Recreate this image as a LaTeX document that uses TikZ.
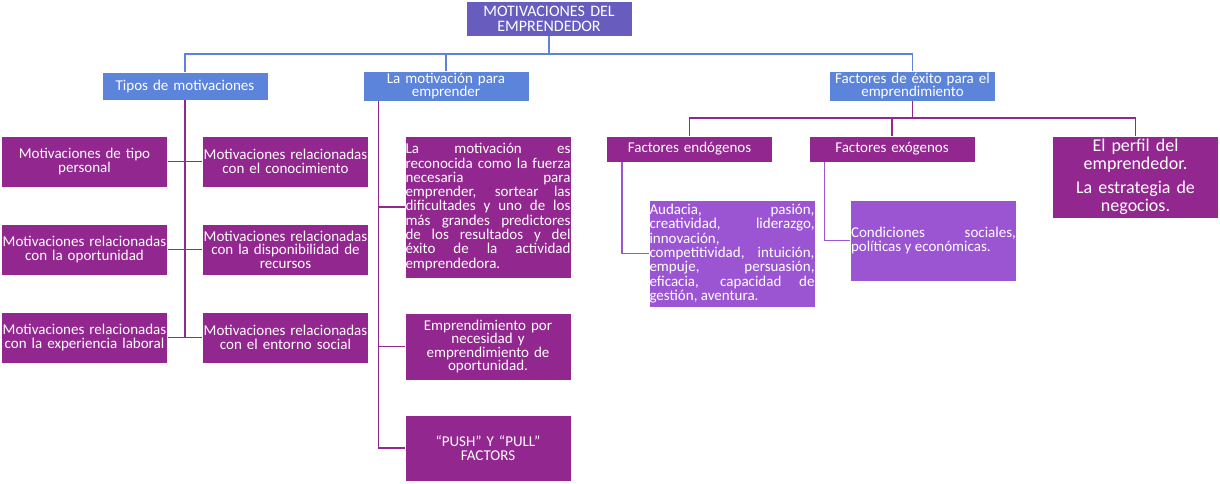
\documentclass[tikz,border=0pt]{standalone}
\usepackage{fontspec}
\setmainfont{Carlito}
\usetikzlibrary{positioning}
\definecolor{MEViolet}{RGB}{104,92,190}
\definecolor{MEBlue}{RGB}{91,132,218}
\definecolor{MEPlum}{RGB}{146,39,143}
\definecolor{MELilac}{RGB}{155,85,211}

\begin{document}
\begin{tikzpicture}[
  x=1pt, y=-1pt,
  every node/.style={font=\fontsize{15}{13.5}\selectfont, text=white,
                     inner xsep=0.5pt, inner ysep=2pt},
  boxbase/.style={draw=white, line width=0.6pt, align=center,
                  minimum width=166pt, text width=165pt},
  titlebox/.style={boxbase, fill=MEViolet, minimum height=35pt, inner ysep=1pt,
                   font=\fontsize{16}{15}\selectfont},
  catbox/.style={boxbase, fill=MEBlue, minimum height=28pt},
  itembox/.style={boxbase, fill=MEPlum, minimum height=51pt},
  textbox/.style={boxbase, fill=MEPlum, align=justify,
                  font=\fontsize{15}{14.3}\selectfont},
  lilacbox/.style={textbox, fill=MELilac},
  bluelink/.style={draw=MEBlue, line width=1.5pt},
  plumlink/.style={draw=MEPlum, line width=1.5pt},
  lilaclink/.style={draw=MELilac, line width=1.5pt}
]
  \useasboundingbox (0,0) rectangle (1220,483);

  \node[titlebox] (root)   at (549,18.5) {MOTIVACIONES DEL\\EMPRENDEDOR};
  \node[catbox]   (tipos)  at (185,86)   {Tipos de motivaciones};
  \node[catbox]   (parael) at (446,86)   {La motivación para\\emprender};
  \node[catbox]   (exito)  at (912.5,86) {Factores de éxito para el\\emprendimiento};

  \node[itembox] (personal) at (84.5,161.5)  {Motivaciones de tipo\\personal};
  \node[itembox] (conoc)    at (285.5,161.5) {Motivaciones relacionadas\\con el conocimiento};
  \node[itembox] (oportun)  at (84.5,249.5)  {Motivaciones relacionadas\\con la oportunidad};
  \node[itembox] (recursos) at (285.5,249.5) {Motivaciones relacionadas\\con la disponibilidad de\\recursos};
  \node[itembox] (laboral)  at (84.5,337.5)  {Motivaciones relacionadas\\con la experiencia laboral};
  \node[itembox] (social)   at (285.5,337.5) {Motivaciones relacionadas\\con el entorno social};

  \node[textbox, minimum height=142pt] (fuerza) at (488,207) {La motivación es\linebreak
    reconocida como la fuerza\linebreak necesaria para\linebreak emprender, sortear las\linebreak
    dificultades y uno de los\linebreak más grandes predictores\linebreak de los resultados y del\linebreak
    éxito de la actividad\linebreak emprendedora.};
  \node[itembox, minimum height=67pt] (necesidad) at (488,346.5) {Emprendimiento por\\necesidad y\\emprendimiento de\\oportunidad.};
  \node[itembox, minimum height=66pt] (pushpull)  at (488,448)   {“PUSH” Y “PULL”\\FACTORS};

  \node[itembox, minimum height=26pt] (endo) at (689.5,149) {Factores endógenos};
  \node[itembox, minimum height=26pt] (exo)  at (892,149)   {Factores exógenos};
  \node[itembox, minimum height=82pt, font=\fontsize{18}{18}\selectfont] (perfil) at (1135.5,177)
    {El perfil del\\emprendedor.\\[6pt]La estrategia de\\negocios.};

  \node[lilacbox, minimum height=107pt] (rasgos) at (732,253.5) {Audacia, pasión,\linebreak
    creatividad, liderazgo,\linebreak innovación,\newline competitividad, intuición,\linebreak
    empuje, persuasión,\linebreak eficacia, capacidad de\linebreak gestión, aventura.};
  \node[lilacbox, minimum height=81pt] (entorno) at (933.5,240.5) {Condiciones sociales,\linebreak
    políticas y económicas.};

  % top level
  \coordinate (rootbus) at (549,54);
  \draw[bluelink] (root.south) -- (rootbus);
  \draw[bluelink] (tipos.north) |- (rootbus) -| (exito.north);
  \draw[bluelink] (parael.north) -- (parael.north |- rootbus);

  % tipos de motivaciones
  \draw[plumlink] (tipos.south) -- (tipos.south |- laboral.east);
  \draw[plumlink] (personal) -- (conoc);
  \draw[plumlink] (oportun) -- (recursos);
  \draw[plumlink] (laboral) -- (social);

  % la motivacion para emprender
  \coordinate (paratrunk) at ([xshift=16pt]parael.south west);
  \draw[plumlink] (paratrunk) |- (fuerza.west);
  \draw[plumlink] (paratrunk) |- (necesidad.west);
  \draw[plumlink] (paratrunk) |- (pushpull.west);

  % factores de exito
  \coordinate (exitobus) at (912.5,118);
  \draw[plumlink] (exito.south) -- (exitobus);
  \draw[plumlink] (endo.north) |- (exitobus) -| (perfil.north);
  \draw[plumlink] (exo.north) -- (exo.north |- exitobus);

  \coordinate (endotrunk) at ([xshift=16pt]endo.south west);
  \draw[lilaclink] (endotrunk) |- (rasgos.west);
  \coordinate (exotrunk) at ([xshift=16pt]exo.south west);
  \draw[lilaclink] (exotrunk) |- (entorno.west);
\end{tikzpicture}
\end{document}
